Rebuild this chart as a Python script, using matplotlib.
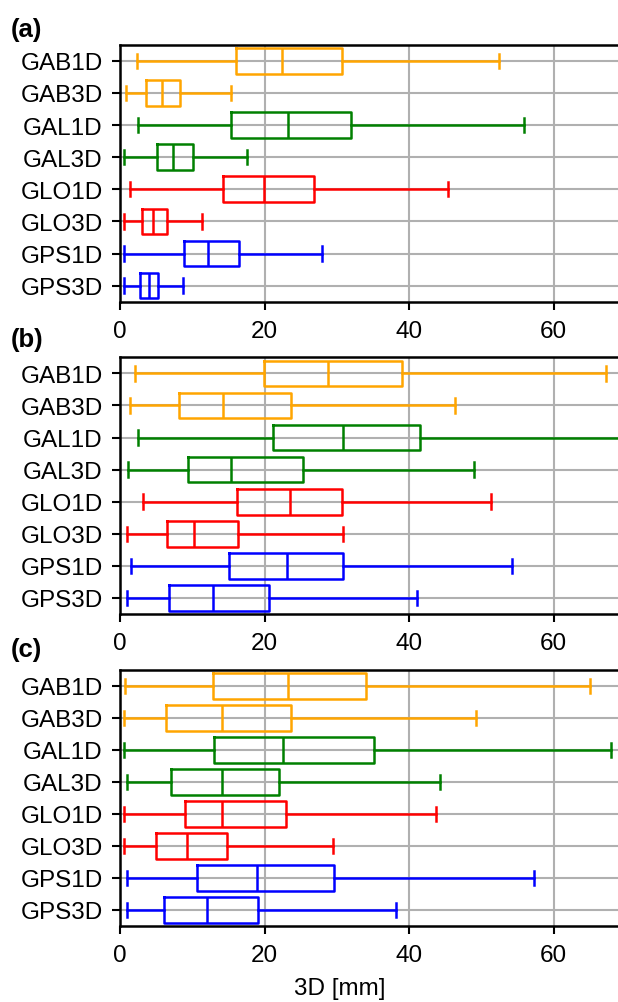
import matplotlib
matplotlib.use("Agg")
import matplotlib.pyplot as plt

plt.rcParams['font.family'] = ['Liberation Sans', 'DejaVu Sans']

categories = ["GAB1D", "GAB3D", "GAL1D", "GAL3D", "GLO1D", "GLO3D", "GPS1D", "GPS3D"]
colors = ["orange", "orange", "green", "green", "red", "red", "blue", "blue"]
panel_labels = ["(a)", "(b)", "(c)"]

# each row: whisker low, Q1, median, Q3, whisker high
stats_a = [
    [2.3, 16.1, 22.4, 30.7, 52.4],
    [0.8, 3.6, 5.8, 8.3, 15.3],
    [2.5, 15.3, 23.2, 31.9, 55.9],
    [0.5, 5.1, 7.4, 10.1, 17.5],
    [1.4, 14.3, 19.9, 26.9, 45.4],
    [0.5, 3.0, 4.5, 6.5, 11.4],
    [0.5, 8.8, 12.2, 16.5, 28.0],
    [0.5, 2.7, 4.0, 5.2, 8.7],
]
stats_b = [
    [2.1, 19.9, 28.8, 39.0, 67.3],
    [1.4, 8.2, 14.2, 23.6, 46.4],
    [2.5, 21.2, 30.8, 41.5, 72.0],
    [1.1, 9.4, 15.3, 25.3, 49.0],
    [3.2, 16.2, 23.5, 30.7, 51.3],
    [1.0, 6.5, 10.2, 16.3, 30.9],
    [1.5, 15.1, 23.1, 30.9, 54.2],
    [1.0, 6.8, 12.8, 20.6, 41.1],
]
stats_c = [
    [0.7, 12.9, 23.2, 34.0, 65.0],
    [0.5, 6.3, 14.1, 23.6, 49.3],
    [0.5, 13.0, 22.6, 35.1, 67.9],
    [1.0, 7.1, 14.1, 22.0, 44.2],
    [0.5, 9.0, 14.1, 23.0, 43.7],
    [0.5, 5.0, 9.2, 14.8, 29.4],
    [1.0, 10.7, 19.0, 29.6, 57.3],
    [1.0, 6.1, 12.1, 19.1, 38.2],
]
xticks = [0, 20, 40, 60]
xlabel = "3D [mm]"

W, H = 618, 1003
fig = plt.figure(figsize=(W / 100, H / 100), dpi=100)

left = 120 / W
right = 626 / W
panels = [(45.7, 302.7), (358.3, 615.0), (670.7, 926.7)]
label_base = [37.5, 347.5, 657.5]
fs = 17.5
lw = 1.8

for i, (stats, (top, bot)) in enumerate(zip([stats_a, stats_b, stats_c], panels)):
    ax = fig.add_axes([left, 1 - bot / H, right - left, (bot - top) / H])
    n = len(categories)
    positions = list(range(n))
    for j, (row, col) in enumerate(zip(stats, colors)):
        d = dict(whislo=row[0], q1=row[1], med=row[2], q3=row[3], whishi=row[4], fliers=[])
        ax.bxp([d], positions=[positions[j]], vert=False, widths=0.8, capwidths=0.45,
               showfliers=False,
               boxprops=dict(color=col, linewidth=lw),
               whiskerprops=dict(color=col, linewidth=lw),
               capprops=dict(color=col, linewidth=lw),
               medianprops=dict(color=col, linewidth=lw),
               manage_ticks=False)
    ax.set_yticks(positions)
    ax.set_yticklabels(categories, fontsize=fs)
    ax.set_ylim(n - 0.5, -0.5)
    ax.set_xlim(0, 70)
    ax.set_xticks(xticks)
    ax.tick_params(axis='x', labelsize=fs, width=1.5, length=6, pad=7)
    ax.tick_params(axis='y', width=1.5, length=6, pad=6.5)
    ax.grid(True, color='#b0b0b0', linewidth=1.5)
    for s in ax.spines.values():
        s.set_linewidth(1.8)
    fig.text(11 / W, 1 - label_base[i] / H, panel_labels[i], fontsize=18.5, fontweight='bold',
             va='baseline', ha='left')
    if i == 2:
        ax.set_xlabel(xlabel, fontsize=fs, labelpad=5)
        ax.xaxis.set_label_coords((340 - 120) / (626 - 120), -0.2)

fig.savefig("out.png", dpi=100)
